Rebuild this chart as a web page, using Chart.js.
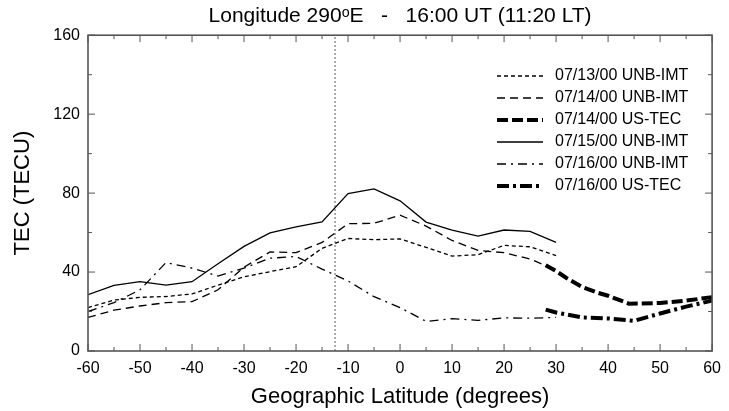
<!DOCTYPE html>
<html>
<head>
<meta charset="utf-8">
<script src="https://cdn.jsdelivr.net/npm/chart.js@4.4.0/dist/chart.umd.min.js"></script>
<style>
  html, body { margin: 0; padding: 0; background: #fff; }
</style>
</head>
<body>
<canvas id="tecChart" width="729" height="411"></canvas>
<script>
// UNB-IMT runs, every 5 degrees of latitude
const imtLat = [-60, -55, -50, -45, -40, -35, -30, -25, -20, -15, -10, -5, 0, 5, 10, 15, 20, 25, 30];
const tec0713Imt = [22, 25.8, 27.2, 27.6, 28.9, 33.4, 37.6, 40.2, 42.7, 52, 57, 56.4, 56.8, 52.5, 48.1, 48.8, 53.5, 52.8, 48.3];
const tec0714Imt = [17, 20.7, 22.8, 24.5, 25, 31, 42.5, 50.2, 49.8, 55, 64.5, 64.7, 68.8, 63.3, 56, 51, 49.8, 46.6, 41];
const tec0715Imt = [28.5, 33.3, 35.1, 33.4, 35.1, 44.2, 53, 59.8, 62.9, 65.4, 79.8, 82.1, 76.1, 65.3, 61.3, 58.2, 61.3, 60.6, 55];
const tec0716Imt = [20, 24.5, 31, 44.8, 42, 38, 42, 47, 47.9, 41.5, 35.5, 27.5, 22, 15, 16.4, 15.5, 16.8, 16.6, 17];

// US-TEC maps (northern part only)
const us0714Lat = [28, 30, 32, 35, 38, 40, 44, 50, 55, 60];
const tec0714Us = [43.5, 40.5, 37, 32.5, 29.5, 28, 24, 24.3, 25.5, 27.3];
const us0716Lat = [28, 30, 35, 40, 45, 50, 55, 60];
const tec0716Us = [21, 19.5, 17, 16.5, 15.3, 19, 22.5, 25.5];

const magEquatorLat = -12.5;

const xTickValues = [-60, -50, -40, -30, -20, -10, 0, 10, 20, 30, 40, 50, 60];
const yTickValues = [0, 40, 80, 120, 160];

const toPoints = (lats, vals) => lats.map((lat, i) => ({ x: lat, y: vals[i] }));

Chart.defaults.font.family = '"Liberation Sans", Arial, sans-serif';
Chart.defaults.color = '#000';

const series = [
  { label: '07/13/00 UNB-IMT', data: toPoints(imtLat, tec0713Imt), borderWidth: 1.3, borderDash: [4, 3] },
  { label: '07/14/00 UNB-IMT', data: toPoints(imtLat, tec0714Imt), borderWidth: 1.3, borderDash: [8, 5] },
  { label: '07/14/00 US-TEC', data: toPoints(us0714Lat, tec0714Us), borderWidth: 4, borderDash: [11, 4] },
  { label: '07/15/00 UNB-IMT', data: toPoints(imtLat, tec0715Imt), borderWidth: 1.3, borderDash: [] },
  { label: '07/16/00 UNB-IMT', data: toPoints(imtLat, tec0716Imt), borderWidth: 1.3, borderDash: [9, 5, 2, 5] },
  { label: '07/16/00 US-TEC', data: toPoints(us0716Lat, tec0716Us), borderWidth: 4, borderDash: [12, 4, 3, 4] }
];

const datasets = series.map(s => ({
  ...s,
  borderColor: '#000',
  pointRadius: 0,
  tension: 0,
  fill: false
}));

datasets.push({
  label: '',
  data: [{ x: magEquatorLat, y: yTickValues[0] }, { x: magEquatorLat, y: yTickValues[yTickValues.length - 1] }],
  borderColor: '#777',
  borderWidth: 1.2,
  borderDash: [2, 2],
  pointRadius: 0,
  hideInLegend: true
});

// box round the plot with inward ticks on all four sides
const frameTicks = {
  id: 'frameTicks',
  afterDatasetsDraw(chart) {
    const { ctx, chartArea: a, scales: { x, y } } = chart;
    const seg = (x1, y1, x2, y2) => { ctx.beginPath(); ctx.moveTo(x1, y1); ctx.lineTo(x2, y2); ctx.stroke(); };
    ctx.save();
    ctx.strokeStyle = '#555';
    ctx.lineWidth = 1;
    for (let v = x.min; v <= x.max; v += 5) {
      const px = x.getPixelForValue(v);
      const len = v % 10 === 0 ? 7 : 4;
      seg(px, a.bottom, px, a.bottom - len);
      seg(px, a.top, px, a.top + len);
    }
    for (let v = y.min; v <= y.max; v += 20) {
      const py = y.getPixelForValue(v);
      const len = v % 40 === 0 ? 7 : 4;
      seg(a.left, py, a.left + len, py);
      seg(a.right, py, a.right - len, py);
    }
    ctx.lineWidth = 1.6;
    ctx.strokeRect(a.left, a.top, a.right - a.left, a.bottom - a.top);
    ctx.restore();
  }
};

// legend inside the plot, upper right
const insideLegend = {
  id: 'insideLegend',
  afterDraw(chart) {
    const { ctx } = chart;
    ctx.save();
    ctx.font = '16px "Liberation Sans", Arial, sans-serif';
    ctx.textBaseline = 'middle';
    ctx.fillStyle = '#000';
    let rowY = 76;
    chart.data.datasets.forEach(ds => {
      if (ds.hideInLegend) return;
      ctx.strokeStyle = ds.borderColor;
      ctx.lineWidth = ds.borderWidth;
      ctx.setLineDash(ds.borderDash);
      ctx.beginPath();
      ctx.moveTo(497, rowY);
      ctx.lineTo(543, rowY);
      ctx.stroke();
      ctx.setLineDash([]);
      ctx.fillText(ds.label, 555, rowY);
      rowY += 22;
    });
    ctx.restore();
  }
};

new Chart(document.getElementById('tecChart'), {
  type: 'line',
  data: { datasets },
  options: {
    responsive: false,
    animation: false,
    layout: { padding: { left: 0, right: 10, top: 0, bottom: 0 } },
    plugins: {
      legend: { display: false },
      tooltip: { enabled: false },
      title: {
        display: true,
        fullSize: false,
        text: 'Longitude 290\u1D52E   -   16:00 UT (11:20 LT)',
        font: { size: 21, weight: 'normal' },
        padding: { top: 4, bottom: 6 }
      }
    },
    scales: {
      x: {
        type: 'linear',
        min: xTickValues[0],
        max: xTickValues[xTickValues.length - 1],
        afterBuildTicks: s => { s.ticks = xTickValues.map(v => ({ value: v })); },
        afterFit: s => { s.height = 60; },
        grid: { display: false, drawTicks: false },
        border: { display: false },
        ticks: { font: { size: 16 }, padding: 8, maxRotation: 0 },
        title: {
          display: true,
          text: 'Geographic Latitude (degrees)',
          font: { size: 22 },
          padding: { top: 0, bottom: 1 }
        }
      },
      y: {
        min: yTickValues[0],
        max: yTickValues[yTickValues.length - 1],
        afterBuildTicks: s => { s.ticks = yTickValues.map(v => ({ value: v })); },
        afterFit: s => { s.width = 88; },
        grid: { display: false, drawTicks: false },
        border: { display: false },
        ticks: { font: { size: 16 }, padding: 8 },
        title: {
          display: true,
          text: 'TEC (TECU)',
          font: { size: 22 },
          padding: { top: 10, bottom: 0 }
        }
      }
    }
  },
  plugins: [frameTicks, insideLegend]
});
</script>
</body>
</html>
